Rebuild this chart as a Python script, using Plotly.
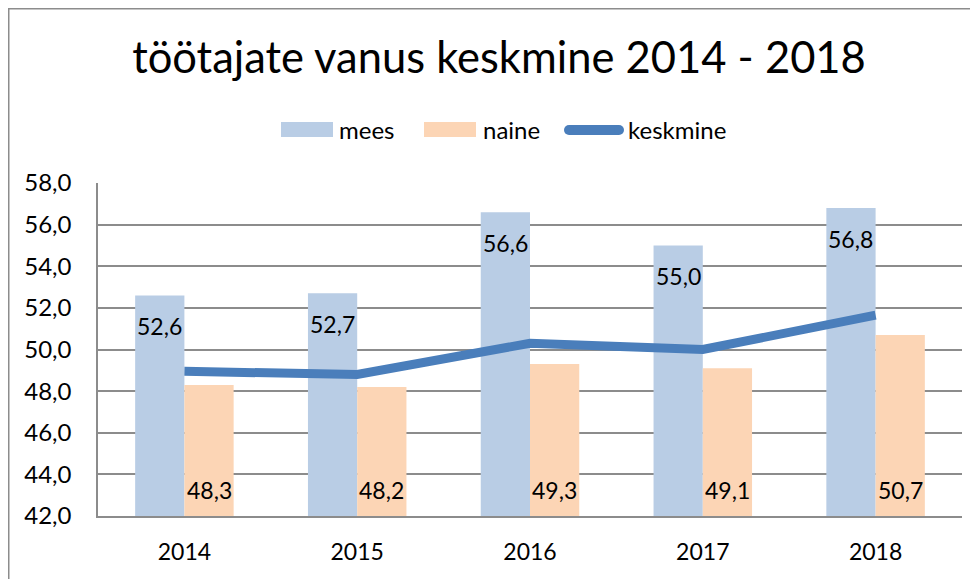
import plotly.graph_objects as go

years = ["2014", "2015", "2016", "2017", "2018"]
mees = [52.6, 52.7, 56.6, 55.0, 56.8]
naine = [48.3, 48.2, 49.3, 49.1, 50.7]
keskmine = [48.95, 48.8, 50.3, 50.0, 51.65]
y_ticks = [42, 44, 46, 48, 50, 52, 54, 56, 58]
series_names = ["mees", "naine", "keskmine"]
colors = ["#B9CDE5", "#FCD5B5", "#4A7EBB"]

# the page body has an 8px margin, so the figure is laid out 8px smaller / shifted
OFF = 8
W, H = 978 - OFF, 579 - OFF
ML, MT = 98 - OFF, 183 - OFF
MR = W - (962 - OFF)
MB = H - (516 - OFF)
PW, PH = W - ML - MR, H - MT - MB
BARGAP = 0.43
FONT = "Lato"

def fmt(v):
    return f"{v:.1f}".replace(".", ",")

def px(x):  # reference pixel x -> paper
    return (x - OFF - ML) / PW

def py(y):  # reference pixel y -> paper
    return (MT + PH - (y - OFF)) / PH

fig = go.Figure()
fig.add_trace(go.Bar(x=years, y=mees, name=series_names[0], marker=dict(color=colors[0], line=dict(width=0))))
fig.add_trace(go.Bar(x=years, y=naine, name=series_names[1], marker=dict(color=colors[1], line=dict(width=0))))
fig.add_trace(go.Scatter(x=years, y=keskmine, name=series_names[2], mode="lines",
                         line=dict(color=colors[2], width=9)))

cat_w = PW / len(years)
shift = (1 - BARGAP) / 4 * cat_w
ann = []
lab_font = dict(family=FONT, size=23, color="black")
for i, v in enumerate(mees):
    ann.append(dict(x=i, y=v, xref="x", yref="y", text=fmt(v), showarrow=False,
                    xshift=-shift, yshift=-31, font=lab_font))
for i, v in enumerate(naine):
    ann.append(dict(x=i, y=y_ticks[0], xref="x", yref="y", text=fmt(v), showarrow=False,
                    xshift=shift, yshift=26, font=lab_font))

# manual legend (wide swatches like the original)
leg_y = 130
shapes = []
leg_font = dict(family=FONT, size=24, color="black")
swatch_x = [281, 424]
text_x = [337, 481, 626]
for k in range(2):
    shapes.append(dict(type="rect", xref="paper", yref="paper",
                       x0=px(swatch_x[k]), x1=px(swatch_x[k] + 52), y0=py(137), y1=py(122),
                       fillcolor=colors[k], line=dict(width=0)))
shapes.append(dict(type="line", xref="paper", yref="paper", x0=px(569), x1=px(619),
                   y0=py(leg_y), y1=py(leg_y), line=dict(color=colors[2], width=10)))
for cx in (569, 619):
    shapes.append(dict(type="circle", xref="paper", yref="paper",
                       x0=px(cx - 5), x1=px(cx + 5), y0=py(leg_y + 5), y1=py(leg_y - 5),
                       fillcolor=colors[2], line=dict(width=0)))
for k in range(3):
    ann.append(dict(x=px(text_x[k]), y=py(leg_y), xref="paper", yref="paper", text=series_names[k],
                    showarrow=False, xanchor="left", yanchor="middle", font=leg_font))

# outer frame (left and top edges visible)
shapes.append(dict(type="rect", xref="paper", yref="paper",
                   x0=px(OFF + 0.75), x1=px(978 + 20), y0=py(579 + 20), y1=py(OFF + 0.75),
                   line=dict(color="#8C8C8C", width=1.5), fillcolor="rgba(0,0,0,0)", layer="below"))

fig.update_layout(
    width=W, height=H, autosize=False,
    margin=dict(l=ML, r=MR, t=MT, b=MB, autoexpand=False),
    paper_bgcolor="white", plot_bgcolor="white",
    separators=", ",
    barmode="group", bargap=BARGAP, bargroupgap=0,
    showlegend=False,
    title=dict(text="töötajate vanus keskmine 2014 - 2018", x=(499 - OFF) / W, xanchor="center",
               xref="container", y=1 - (58 - OFF) / H, yanchor="middle", yref="container",
               font=dict(family=FONT, size=43.5, color="black")),
    xaxis=dict(type="category", range=[-0.5, 4.5], showgrid=False, showline=True, automargin=False,
               linecolor="#8C8C8C", linewidth=1.5,
               ticks="", tickfont=dict(family=FONT, size=23, color="black"), ticklabelstandoff=15),
    yaxis=dict(range=[42, 58], tickvals=y_ticks, tickformat=".1f", showgrid=True, automargin=False,
               gridcolor="#8C8C8C", gridwidth=1.5, showline=True, linecolor="#8C8C8C", linewidth=1.5,
               zeroline=False, ticks="", tickfont=dict(family=FONT, size=24, color="black"),
               ticklabelstandoff=20),
    annotations=ann,
    shapes=shapes,
)

fig.write_html("out.html")
